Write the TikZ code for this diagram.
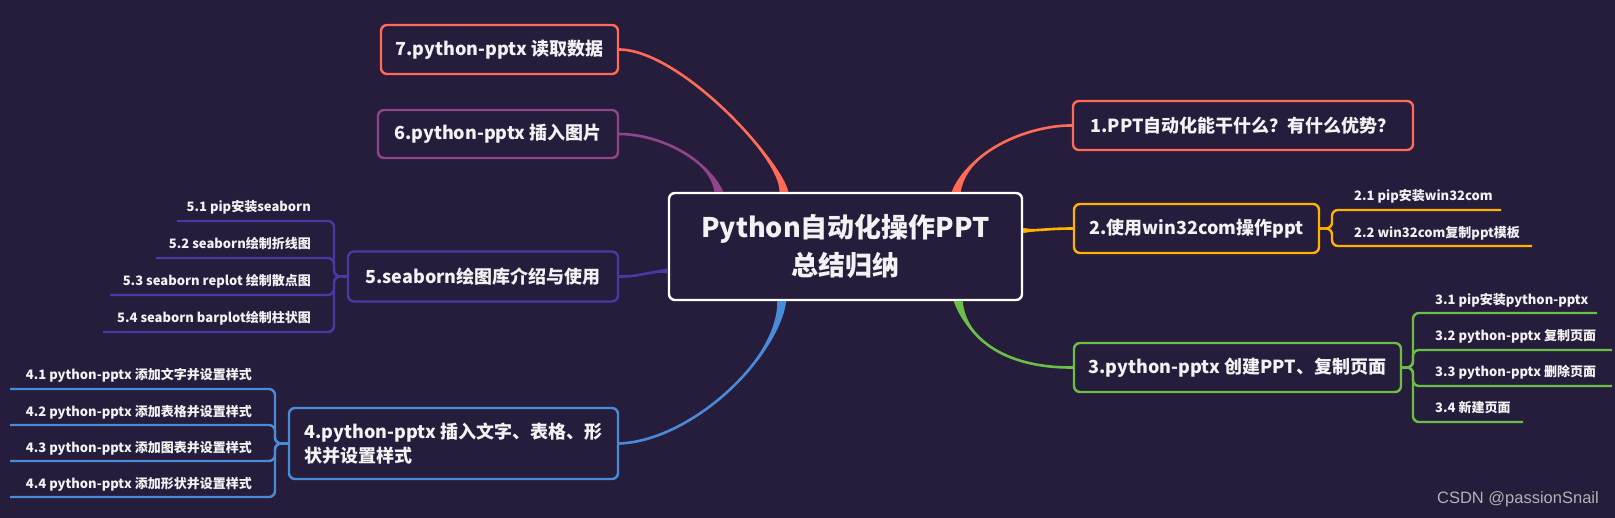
\documentclass[tikz,border=0pt]{standalone}
\usepackage{fontspec}
\setmainfont{Noto Sans CJK SC}
\newfontfamily\markfont{Liberation Sans}
\usetikzlibrary{calc}

% Colours of the map
\definecolor{bgcol}{HTML}{261C3B}
\definecolor{txtcol}{HTML}{F2F2F2}
\definecolor{salmoncol}{HTML}{FF6B57}
\definecolor{ambercol}{HTML}{FFB300}
\definecolor{leafcol}{HTML}{6BBF47}
\definecolor{skycol}{HTML}{4A8BD9}
\definecolor{inkcol}{HTML}{4B38A3}
\definecolor{plumcol}{HTML}{8F4589}

\tikzset{
  topic/.style={draw=#1, line width=2.4pt, rounded corners=6pt, fill=bgcol, text=txtcol,
    font=\fontsize{18}{24}\selectfont\bfseries, inner sep=0pt, minimum height=49pt},
  subtopic/.style={text=txtcol, font=\fontsize{13}{16}\selectfont\bfseries, inner sep=0pt},
  twig/.style={draw=#1, line width=2.4pt, rounded corners=6pt},
}

% tapered branch: colour, from, to, control 1, control 2, half width at the root end
\newcommand\branch[6]{%
  \coordinate (bA) at (#2);
  \coordinate (bB) at (#3);
  \fill[#1] (bA) .. controls (#4) and (#5) .. ($(bB)+(#6)$) -- ($(bB)-(#6)$) .. controls (#5) and (#4) .. (bA) -- cycle;
  \draw[#1, line width=2.6pt] (bA) .. controls (#4) and (#5) .. (bB);
}

\begin{document}
\begin{tikzpicture}[x=1pt, y=-1pt]
  \fill[bgcol] (0,0) rectangle (1615,518);
  \useasboundingbox (0,0) rectangle (1615,518);

  % Central topic
  \node[topic=white, minimum width=353pt, minimum height=107pt, align=center,
    font=\fontsize{27}{38}\selectfont\bfseries] (root) at (845.5,246.5)
    {Python自动化操作PPT\\总结归纳};

  % Main topics, right side
  \node[topic=salmoncol, minimum width=340pt] (n1) at (1243,125.5) {1.PPT自动化能干什么？有什么优势？};
  \node[topic=ambercol, minimum width=245pt] (n2) at (1196.5,228.5) {2.使用win32com操作ppt};
  \node[topic=leafcol, minimum width=327pt] (n3) at (1237.5,367.5) {3.python-pptx 创建PPT、复制页面};
  % Main topics, left side
  \node[topic=skycol, minimum width=329pt, minimum height=71pt, align=left] (n4) at (453.5,443.5)
    {4.python-pptx 插入文字、表格、形\\状并设置样式};
  \node[topic=inkcol, minimum width=270pt, minimum height=50pt] (n5) at (483,276.5) {5.seaborn绘图库介绍与使用};
  \node[topic=plumcol, minimum width=240pt, minimum height=48pt] (n6) at (498,134) {6.python-pptx 插入图片};
  \node[topic=salmoncol, minimum width=237pt] (n7) at (499.5,49.5) {7.python-pptx 读取数据};

  % Branches from the central topic
  \branch{salmoncol}{n1.west}{$(root.north east)+(-67,0)$}{1030,125}{968,150}{4.5,0}
  \branch{ambercol}{n2.west}{$(root.east)+(0,-16)$}{1050,228.5}{1040,230.5}{0,2.5}
  \branch{leafcol}{n3.west}{$(root.south east)+(-65,0)$}{1000,368}{966,335}{4.5,0}
  \branch{skycol}{n4.east}{$(root.south west)+(114,0)$}{690,441}{778,360}{4.5,0}
  \branch{inkcol}{n5.east}{$(root.west)+(0,24.5)$}{640,277}{650,271}{0,2.5}
  \branch{plumcol}{n6.east}{$(root.north west)+(51,0)$}{660,134}{710,160}{4.5,0}
  \branch{salmoncol}{n7.east}{$(root.north west)+(116,0)$}{680,50}{782,160}{4.5,0}

  % Sub topics of 2
  \node[subtopic, anchor=west] (c21) at (1354,196) {2.1 pip安装win32com};
  \node[subtopic, anchor=west] (c22) at (1354,233) {2.2 win32com复制ppt模板};
  \coordinate (s2) at (1332,228.5);
  \coordinate (u21) at (1501,210);
  \coordinate (u22) at (1532,246);
  \foreach \u in {u21,u22}
    \draw[twig=ambercol] (n2.east) -- (s2) -- (s2 |- \u) -- (\u);

  % Sub topics of 3
  \node[subtopic, anchor=west] (c31) at (1435,300) {3.1 pip安装python-pptx};
  \node[subtopic, anchor=west] (c32) at (1435,336) {3.2 python-pptx 复制页面};
  \node[subtopic, anchor=west] (c33) at (1435,372) {3.3 python-pptx 删除页面};
  \node[subtopic, anchor=west] (c34) at (1435,408) {3.4 新建页面};
  \coordinate (s3) at (1413,367.5);
  \coordinate (u31) at (1597,313);
  \coordinate (u32) at (1612,350);
  \coordinate (u33) at (1612,386);
  \coordinate (u34) at (1523,422);
  \foreach \u in {u31,u32,u33,u34}
    \draw[twig=leafcol] (n3.east) -- (s3) -- (s3 |- \u) -- (\u);

  % Sub topics of 4
  \node[subtopic, anchor=east] (c41) at (252,375) {4.1 python-pptx 添加文字并设置样式};
  \node[subtopic, anchor=east] (c42) at (252,412) {4.2 python-pptx 添加表格并设置样式};
  \node[subtopic, anchor=east] (c43) at (252,448) {4.3 python-pptx 添加图表并设置样式};
  \node[subtopic, anchor=east] (c44) at (252,484) {4.4 python-pptx 添加形状并设置样式};
  \coordinate (s4) at (275,443.5);
  \coordinate (u41) at (10,389);
  \coordinate (u42) at (10,425);
  \coordinate (u43) at (10,461);
  \coordinate (u44) at (10,497);
  \foreach \u in {u41,u42,u43,u44}
    \draw[twig=skycol] (n4.west) -- (s4) -- (s4 |- \u) -- (\u);

  % Sub topics of 5
  \node[subtopic, anchor=east] (c51) at (311,207) {5.1 pip安装seaborn};
  \node[subtopic, anchor=east] (c52) at (311,244) {5.2 seaborn绘制折线图};
  \node[subtopic, anchor=east] (c53) at (311,281) {5.3 seaborn replot 绘制散点图};
  \node[subtopic, anchor=east] (c54) at (311,318) {5.4 seaborn barplot绘制柱状图};
  \coordinate (s5) at (334,276.5);
  \coordinate (u51) at (177,221);
  \coordinate (u52) at (156,258);
  \coordinate (u53) at (110,295);
  \coordinate (u54) at (103,332);
  \foreach \u in {u51,u52,u53,u54}
    \draw[twig=inkcol] (n5.west) -- (s5) -- (s5 |- \u) -- (\u);

  % Watermark
  \node[anchor=east, inner sep=0pt, text=gray!60, font=\markfont\fontsize{16.5}{20}\selectfont] (mark) at (1599,499) {CSDN @passionSnail};
\end{tikzpicture}
\end{document}
